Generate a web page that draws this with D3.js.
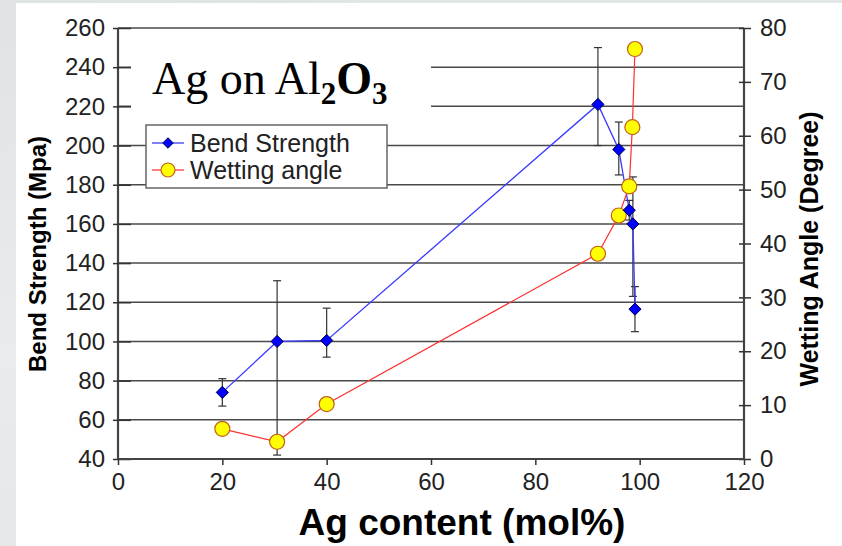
<!DOCTYPE html>
<html>
<head>
<meta charset="utf-8">
<script src="https://cdn.jsdelivr.net/npm/d3@7"></script>
<style>
  body { margin: 0; background: #e2e6e6; }
  svg { display: block; }
</style>
</head>
<body>
<div id="chart"></div>
<script>
var width = 842, height = 546;

// Bend strength (left axis, MPa)
var bendContent = [20, 30.5, 40, 92, 96, 98, 98.7, 99.1];
var bendStrength = [74, 100, 100.5, 221, 198, 167, 160, 116.5];
var bendLow = [67, 42, 92, 200, 185, 162, 123, 105];
var bendHigh = [81, 131, 117, 250, 212, 172, 184, 128];

// Wetting angle (right axis, degree)
var wetContent = [20, 30.5, 40, 92, 96, 98, 98.6, 99.1];
var wettingAngle = [5.6, 3.2, 10.2, 38.1, 45.2, 50.6, 61.6, 76.1];

var xTicks = [0, 20, 40, 60, 80, 100, 120];
var leftTicks = [40, 60, 80, 100, 120, 140, 160, 180, 200, 220, 240, 260];
var rightTicks = [0, 10, 20, 30, 40, 50, 60, 70, 80];

var x = d3.scaleLinear().domain([0, 120]).range([118, 744]);
var yL = d3.scaleLinear().domain([40, 260]).range([459, 28]);
var yR = d3.scaleLinear().domain([0, 80]).range([459, 28]);

var svg = d3.select("#chart").append("svg")
            .attr("width", width)
            .attr("height", height);

// slide background
var defs = svg.append("defs");
var grad = defs.append("linearGradient").attr("id", "bg")
               .attr("x1", 0).attr("y1", 0).attr("x2", 0.3).attr("y2", 1);
grad.append("stop").attr("offset", "0%").attr("stop-color", "#dfe3e3");
grad.append("stop").attr("offset", "60%").attr("stop-color", "#e9ecec");
grad.append("stop").attr("offset", "100%").attr("stop-color", "#e3e7e7");
svg.append("rect").attr("width", width).attr("height", height).attr("fill", "url(#bg)");
svg.append("rect").attr("x", 16).attr("y", 3)
   .attr("width", width - 16).attr("height", height - 3).attr("fill", "#fff");

var font = "Liberation Sans, Arial, Helvetica, sans-serif";

// gridlines
svg.append("g").selectAll("line")
   .data(leftTicks)
   .enter().append("line")
   .attr("x1", x(0)).attr("x2", x(120))
   .attr("y1", d => yL(d)).attr("y2", d => yL(d))
   .attr("stroke", "#4a4a4a").attr("stroke-width", 1.5);

// left axis
var gL = svg.append("g").attr("transform", "translate(" + x(0) + ",0)")
            .call(d3.axisLeft(yL).tickValues(leftTicks).tickSize(5).tickPadding(8));
gL.selectAll(".tick line").attr("x2", -5).attr("x1", 13).attr("stroke", "#333").attr("stroke-width", 1.5);

// right axis
var gR = svg.append("g").attr("transform", "translate(" + x(120) + ",0)")
            .call(d3.axisRight(yR).tickValues(rightTicks).tickSize(7).tickPadding(9));
gR.selectAll(".tick line").attr("x1", -5).attr("x2", 7).attr("stroke", "#333").attr("stroke-width", 1.5);

// bottom axis
var gB = svg.append("g").attr("transform", "translate(0," + yL(40) + ")")
            .call(d3.axisBottom(x).tickValues(xTicks).tickSize(6).tickPadding(8));
gB.selectAll(".tick line").attr("stroke", "#333").attr("stroke-width", 1.5);

[gL, gR, gB].forEach(function(g) {
  g.select(".domain").attr("stroke", "#444").attr("stroke-width", 2.2);
  g.selectAll(".tick text").attr("font-family", font).attr("font-size", 24).attr("fill", "#222");
});
gL.select(".domain").attr("d", "M0," + yL(260) + "V" + yL(40));
gR.select(".domain").attr("d", "M0," + yR(80) + "V" + yR(0));
gB.select(".domain").attr("d", "M" + x(0) + ",0H" + x(120));

// axis titles
svg.append("text")
   .attr("transform", "translate(46,254) rotate(-90)")
   .attr("text-anchor", "middle")
   .attr("font-family", font).attr("font-weight", "bold").attr("font-size", 24)
   .text("Bend Strength (Mpa)");
svg.append("text")
   .attr("transform", "translate(818,249) rotate(-90)")
   .attr("text-anchor", "middle")
   .attr("font-family", font).attr("font-weight", "bold").attr("font-size", 25)
   .text("Wetting Angle (Degree)");
svg.append("text")
   .attr("x", 462).attr("y", 535)
   .attr("text-anchor", "middle")
   .attr("font-family", font).attr("font-weight", "bold").attr("font-size", 37)
   .text("Ag content (mol%)");

// title with white box
svg.append("rect").attr("x", 131).attr("y", 44).attr("width", 300).attr("height", 76).attr("fill", "#fff");
var title = svg.append("text").attr("x", 152).attr("y", 94)
               .attr("font-family", "Liberation Serif, Times New Roman, serif")
               .attr("font-size", 46);
title.append("tspan").text("Ag on Al");
title.append("tspan").attr("font-weight", "bold").attr("font-size", 31).attr("dy", 10).text("2");
title.append("tspan").attr("font-weight", "bold").attr("dy", -10).text("O");
title.append("tspan").attr("font-weight", "bold").attr("font-size", 31).attr("dy", 10).text("3");

// legend
var lg = svg.append("g").attr("transform", "translate(146,125)");
lg.append("rect").attr("width", 241).attr("height", 63)
  .attr("fill", "#fff").attr("stroke", "#666").attr("stroke-width", 1.5);
lg.append("line").attr("x1", 6).attr("x2", 38).attr("y1", 18).attr("y2", 18)
  .attr("stroke", "#3a3aff").attr("stroke-width", 1.3);
lg.append("path").attr("d", d3.symbol().type(d3.symbolDiamond2).size(70)())
  .attr("transform", "translate(22,18)")
  .attr("fill", "#0000ff").attr("stroke", "#000050").attr("stroke-width", 1);
lg.append("line").attr("x1", 6).attr("x2", 38).attr("y1", 45).attr("y2", 45)
  .attr("stroke", "#ff3030").attr("stroke-width", 1.2);
lg.append("circle").attr("cx", 22).attr("cy", 45).attr("r", 7)
  .attr("fill", "#ffff00").attr("stroke", "#c0601a").attr("stroke-width", 1.2);
lg.append("text").attr("x", 44).attr("y", 27)
  .attr("font-family", font).attr("font-size", 25).attr("fill", "#222")
  .text("Bend Strength");
lg.append("text").attr("x", 44).attr("y", 54)
  .attr("font-family", font).attr("font-size", 25).attr("fill", "#222")
  .text("Wetting angle");

// error bars
var eb = svg.append("g").attr("stroke", "#333").attr("stroke-width", 1.2);
bendContent.forEach(function(c, i) {
  var cx = x(c);
  eb.append("line").attr("x1", cx).attr("x2", cx)
    .attr("y1", yL(bendLow[i])).attr("y2", yL(bendHigh[i]));
  [bendLow[i], bendHigh[i]].forEach(function(v) {
    eb.append("line").attr("x1", cx - 4).attr("x2", cx + 4)
      .attr("y1", yL(v)).attr("y2", yL(v));
  });
});

// lines
var bendPts = bendContent.map((c, i) => [x(c), yL(bendStrength[i])]);
var wetPts = wetContent.map((c, i) => [x(c), yR(wettingAngle[i])]);

svg.append("path").attr("d", d3.line()(bendPts))
   .attr("fill", "none").attr("stroke", "#3a3aff").attr("stroke-width", 1.3);
svg.append("path").attr("d", d3.line()(wetPts))
   .attr("fill", "none").attr("stroke", "#ff3030").attr("stroke-width", 1.2);

// markers
svg.append("g").selectAll("circle")
   .data(wetPts)
   .enter().append("circle")
   .attr("cx", d => d[0]).attr("cy", d => d[1]).attr("r", 7.5)
   .attr("fill", "#ffff00").attr("stroke", "#c0601a").attr("stroke-width", 1.2);

svg.append("g").selectAll("path")
   .data(bendPts)
   .enter().append("path")
   .attr("d", d3.symbol().type(d3.symbolDiamond2).size(95)())
   .attr("transform", d => "translate(" + d[0] + "," + d[1] + ")")
   .attr("fill", "#0000ff").attr("stroke", "#000040").attr("stroke-width", 1);
</script>
</body>
</html>
